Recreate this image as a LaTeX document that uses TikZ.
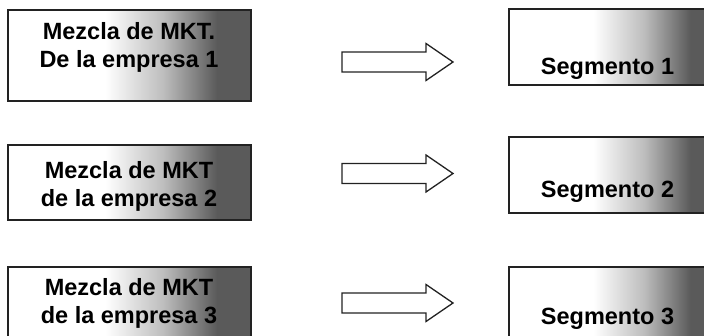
\documentclass[tikz,border=0pt]{standalone}
\usepackage{fontspec}
\setmainfont{Liberation Sans}
\usetikzlibrary{positioning}
\definecolor{cLine}{HTML}{222222}
\definecolor{cDark}{HTML}{5a5a5a}
\pgfdeclarehorizontalshading{sgrain}{100bp}{color(0bp)=(white); color(45bp)=(white);
  color(57bp)=(cDark!40); color(68bp)=(cDark); color(100bp)=(cDark)}
\tikzset{
  sbox/.style={draw=cLine,line width=1.5pt,shading=sgrain,inner sep=0pt},
  semp/.style={sbox,minimum width=243pt},
  sseg/.style={sbox,minimum width=211pt},
  stxt/.style={font=\bfseries\fontsize{23.5}{28}\selectfont,align=center,inner sep=0pt},
  sarw/.style={draw=cLine,line width=1.3pt,fill=white,line join=miter},
}
\begin{document}
\begin{tikzpicture}[x=1pt,y=-1pt]
  \useasboundingbox (0,0) rectangle (704,336);
  \clip (0,0) rectangle (704,336);
  % mezclas
  \node[semp,minimum height=91pt] (emp1) at (129.5,55.5) {};
  \node[semp,minimum height=75pt] (emp2) at (129.5,182.5) {};
  \node[semp,minimum height=80pt] (emp3) at (129.5,307) {};
  \node[stxt] (temp1) at (129,47) {Mezcla de MKT.\\De la empresa 1};
  \node[stxt] (temp2) at (129,186) {Mezcla de MKT\\de la empresa 2};
  \node[stxt] (temp3) at (129,303.5) {Mezcla de MKT\\de la empresa 3};
  % segmentos
  \node[sseg,minimum height=76pt] (seg1) at (614.5,47) {};
  \node[sseg,minimum height=76pt] (seg2) at (614.5,175) {};
  \node[sseg,minimum height=80pt] (seg3) at (614.5,307) {};
  \node[stxt,anchor=base] (tseg1) at (607.5,75) {Segmento 1};
  \node[stxt,anchor=base] (tseg2) at (607.5,198) {Segmento 2};
  \node[stxt,anchor=base] (tseg3) at (607.5,325) {Segmento 3};
  % flechas
  \foreach \y in {62,173.5,303}
    \draw[sarw] (342,\y-10) -- (426,\y-10) -- (426,\y-18.5) -- (453,\y)
      -- (426,\y+18.5) -- (426,\y+10) -- (342,\y+10) -- cycle;
\end{tikzpicture}
\end{document}
